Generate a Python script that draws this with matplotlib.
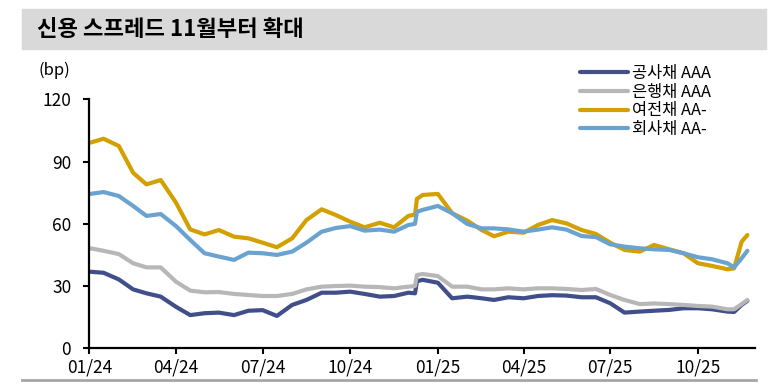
import matplotlib.pyplot as plt
import matplotlib.dates as mdates
from matplotlib.lines import Line2D
from matplotlib.patches import Rectangle
import pandas as pd

plt.rcParams['font.family'] = ['Noto Sans CJK KR', 'DejaVu Sans']

dates = ['2024-01-02', '2024-01-16', '2024-02-01', '2024-02-16', '2024-03-01', '2024-03-16',
         '2024-04-01', '2024-04-16', '2024-05-01', '2024-05-16', '2024-06-01', '2024-06-16',
         '2024-07-01', '2024-07-16', '2024-08-01', '2024-08-16', '2024-09-01', '2024-09-16',
         '2024-10-01', '2024-10-16', '2024-11-01', '2024-11-16', '2024-12-01', '2024-12-08',
         '2024-12-10', '2024-12-16',
         '2025-01-01', '2025-01-16', '2025-02-01', '2025-02-16', '2025-03-01', '2025-03-16',
         '2025-04-01', '2025-04-16', '2025-05-01', '2025-05-16', '2025-06-01', '2025-06-16',
         '2025-07-01', '2025-07-16', '2025-08-01', '2025-08-16', '2025-09-01', '2025-09-16',
         '2025-10-01', '2025-10-16', '2025-11-01', '2025-11-08', '2025-11-16', '2025-11-22']
dates = pd.to_datetime(dates)

# 공사채 AAA
public_aaa = [36.9, 36.4, 33.2, 28.4, 26.5, 24.9, 20.0, 16.0, 16.9, 17.2, 16.0, 18.1, 18.4,
              15.6, 20.9, 23.3, 26.8, 26.8, 27.3, 26.2, 24.9, 25.2, 26.8, 26.5, 32.3, 33.0,
              31.6, 24.1, 24.9, 24.1, 23.3, 24.6, 24.1, 25.2, 25.6, 25.4, 24.6, 24.6, 21.7,
              17.2, 17.7, 18.1, 18.5, 19.3, 19.3, 18.8, 17.7, 17.5, 20.9, 22.9]
# 은행채 AAA
bank_aaa = [48.2, 47.0, 45.4, 41.0, 39.0, 39.0, 32.1, 27.8, 27.0, 27.1, 26.2, 25.7, 25.2,
            25.2, 26.2, 28.4, 29.7, 30.0, 30.2, 29.7, 29.5, 28.9, 29.7, 30.0, 35.3, 35.8,
            34.8, 29.7, 29.7, 28.4, 28.4, 28.9, 28.4, 28.9, 28.9, 28.6, 28.1, 28.6, 25.7,
            23.3, 21.3, 21.6, 21.3, 20.9, 20.4, 20.1, 18.8, 18.8, 21.3, 23.3]
# 여전채 AA-
card_aa = [99.1, 101.0, 97.5, 84.6, 79.0, 81.1, 70.2, 57.3, 54.9, 57.0, 53.8, 53.0, 50.9,
           48.7, 53.0, 61.8, 67.0, 64.2, 61.0, 58.3, 60.5, 58.3, 63.8, 64.5, 72.0, 73.9,
           74.4, 65.1, 61.5, 57.0, 54.0, 56.2, 55.7, 59.4, 61.8, 60.2, 57.0, 55.1, 50.9,
           47.4, 46.6, 49.8, 47.7, 45.8, 41.0, 39.7, 38.1, 38.5, 51.4, 54.6]
# 회사채 AA-
corp_aa = [74.4, 75.3, 73.4, 68.6, 63.8, 64.7, 58.9, 52.2, 45.8, 44.2, 42.6, 46.1, 45.8,
           45.0, 46.6, 50.9, 56.2, 58.0, 58.9, 56.7, 57.2, 56.2, 59.4, 60.0, 65.8, 66.7,
           68.6, 65.1, 59.9, 57.8, 57.8, 57.3, 56.2, 57.2, 58.3, 57.2, 54.1, 53.6, 50.1,
           49.0, 48.2, 47.7, 47.4, 45.8, 43.9, 42.9, 41.0, 39.0, 43.4, 47.0]

labels = ['공사채 AAA', '은행채 AAA', '여전채 AA-', '회사채 AA-']
colors = ['#404E8A', '#B7B7B7', '#D4A000', '#6AA3D0']

fig = plt.figure(figsize=(7.73, 3.83), dpi=100)

# title band
fig.add_artist(Rectangle((22 / 773, 1 - 49 / 383), 744 / 773, 40 / 383,
                         transform=fig.transFigure, color='#D9D9D9', zorder=0))
fig.text(37 / 773, 1 - 29 / 383, '신용 스프레드 11월부터 확대', fontsize=16,
         fontweight='bold', va='center', ha='left')
fig.add_artist(Line2D([22 / 773, 756 / 773], [1 - 380 / 383, 1 - 380 / 383],
                      transform=fig.transFigure, color='#A6A6A6', lw=2))

ax = fig.add_axes([89.3 / 773, 1 - 348.3 / 383, (755 - 89.3) / 773, (348.3 - 99.3) / 383])
for vals, lab, c in zip([public_aaa, bank_aaa, card_aa, corp_aa], labels, colors):
    ax.plot(dates, vals, color=c, lw=3, label=lab, solid_capstyle='round')

ax.set_ylim(0, 120)
ax.set_yticks([0, 30, 60, 90, 120])
ax.set_xlim(pd.Timestamp('2024-01-01'), pd.Timestamp('2025-11-30'))
ax.xaxis.set_major_locator(mdates.MonthLocator(bymonth=[1, 4, 7, 10]))
ax.xaxis.set_major_formatter(mdates.DateFormatter('%m/%y'))
for s in ['top', 'right']:
    ax.spines[s].set_visible(False)
for s in ['left', 'bottom']:
    ax.spines[s].set_linewidth(1.6)
ax.tick_params(direction='out', length=4, width=1.5, labelsize=12.5)
ax.tick_params(axis='y', pad=9)
ax.tick_params(axis='x', pad=3)

fig.text(38 / 773, 1 - 70 / 383, '(bp)', fontsize=12, va='center')

ax.legend(loc='upper left', bbox_to_anchor=(572 / 773, 1 - 57 / 383),
          bbox_transform=fig.transFigure, frameon=False, fontsize=11.8,
          handlelength=2.9, handletextpad=0.25, labelspacing=0.1, borderpad=0)

fig.savefig('out.png', dpi=100)
